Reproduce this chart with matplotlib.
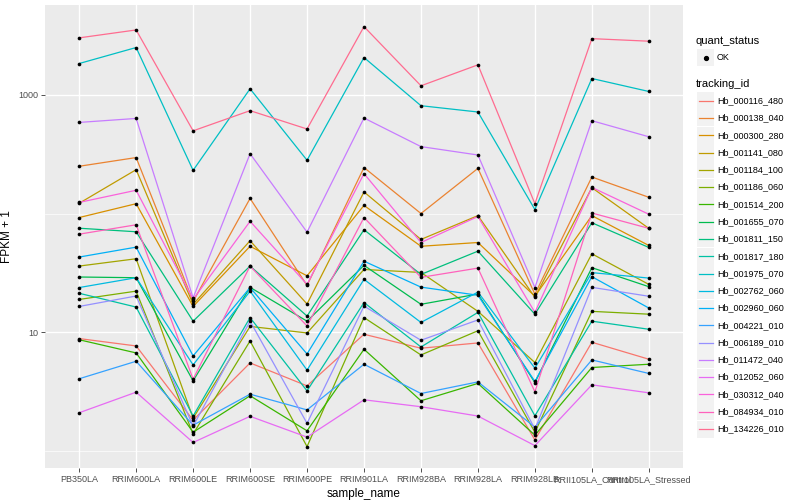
import matplotlib
matplotlib.use("Agg")
import matplotlib.pyplot as plt
import numpy as np
from matplotlib.patches import Rectangle
from matplotlib.lines import Line2D
from matplotlib.ticker import FixedLocator, NullFormatter

plt.rcParams['font.family'] = ['Liberation Sans', 'DejaVu Sans']

samples = ['PB350LA', 'RRIM600LA', 'RRIM600LE', 'RRIM600SE', 'RRIM600PE',
           'RRIM901LA', 'RRIM928BA', 'RRIM928LA', 'RRIM928LB',
           'RRII105LA_Control', 'RRII105LA_Stressed']

tracking_ids = ['Hb_000116_480', 'Hb_000138_040', 'Hb_000300_280', 'Hb_001141_080',
                'Hb_001184_100', 'Hb_001186_060', 'Hb_001514_200', 'Hb_001655_070',
                'Hb_001811_150', 'Hb_001817_180', 'Hb_001975_070', 'Hb_002762_060',
                'Hb_002960_060', 'Hb_004221_010', 'Hb_006189_010', 'Hb_011472_040',
                'Hb_012052_060', 'Hb_030312_040', 'Hb_084934_010', 'Hb_134226_010']

# FPKM + 1 per sample
hb_000116_480 = [8.85, 7.67, 1.82, 5.52, 3.54, 9.62, 7.34, 8.13, 1.24, 8.24, 5.93]
hb_000138_040 = [250, 296, 18.2, 134, 24.8, 244, 100, 240, 20.9, 203, 137]
hb_000300_280 = [92.5, 121, 16.5, 53, 29.9, 117, 53, 57, 20.1, 96, 53.8]
hb_001141_080 = [122, 234, 17.2, 59, 17.3, 152, 60.5, 96, 19.7, 165, 75]
hb_001184_100 = [36.1, 41.6, 1.89, 11.2, 9.87, 33.8, 31.9, 15.0, 5.56, 45.8, 25.3]
hb_001186_060 = [18.9, 22.2, 1.39, 8.45, 1.09, 13.3, 6.44, 10.3, 1.44, 15.0, 14.2]
hb_001514_200 = [8.65, 6.7, 1.44, 2.92, 1.48, 7.19, 2.65, 3.71, 1.36, 5.05, 5.38]
hb_001655_070 = [29.2, 28.8, 3.9, 23.9, 12.4, 36.6, 17.2, 21.0, 3.77, 35.0, 24.2]
hb_001811_150 = [75.2, 70.2, 12.4, 36.1, 13.7, 73, 30.7, 48.2, 14.2, 83.6, 51.8]
hb_001817_180 = [21.3, 16.3, 1.97, 13.3, 3.21, 17.8, 7.52, 14.7, 1.98, 12.4, 10.6]
hb_001975_070 = [1833, 2500, 231, 1123, 281, 2060, 809, 716, 108, 1371, 1066]
hb_002762_060 = [23.8, 28.8, 5.31, 22.2, 4.8, 27.9, 12.1, 21.8, 4.98, 31.8, 28.6]
hb_002960_060 = [43, 52.1, 6.32, 23.8, 6.57, 39.7, 24, 20.5, 3.85, 29.4, 16]
hb_004221_010 = [4.06, 5.7, 1.65, 3.01, 2.22, 5.38, 3.05, 3.82, 1.59, 5.85, 4.5]
hb_006189_010 = [16.5, 20.2, 1.62, 12.4, 1.71, 16.6, 8.57, 12.7, 1.53, 23.9, 20.1]
hb_011472_040 = [585, 632, 19.5, 319, 69.7, 637, 366, 311, 23.8, 605, 443]
hb_012052_060 = [2.1, 3.13, 1.18, 1.96, 1.31, 2.7, 2.36, 1.97, 1.11, 3.61, 3.09]
hb_030312_040 = [124, 157, 18.9, 86, 25.3, 217, 57, 94.4, 14.7, 166, 98.6]
hb_084934_010 = [67, 80.4, 4.03, 36.1, 11.3, 92.5, 29, 34.7, 3.15, 101, 75]
hb_134226_010 = [3015, 3515, 497, 735, 515, 3750, 1190, 1787, 121, 2970, 2826]

series = [hb_000116_480, hb_000138_040, hb_000300_280, hb_001141_080, hb_001184_100,
          hb_001186_060, hb_001514_200, hb_001655_070, hb_001811_150, hb_001817_180,
          hb_001975_070, hb_002762_060, hb_002960_060, hb_004221_010, hb_006189_010,
          hb_011472_040, hb_012052_060, hb_030312_040, hb_084934_010, hb_134226_010]

# ggplot2 default hue palette, 20 levels
colors = ['#F8766D', '#EA8331', '#D89000', '#C09B00', '#A3A500', '#7CAE00', '#39B600',
          '#00BB4E', '#00BF7D', '#00C1A3', '#00BFC4', '#00BAE0', '#00B0F6', '#35A2FF',
          '#9590FF', '#C77CFF', '#E76BF3', '#FA62DB', '#FF62BC', '#FF6C90']

W, H = 800, 500
fig = plt.figure(figsize=(8, 5), dpi=100)
ax = fig.add_axes([45 / W, 1 - 468 / H, 638 / W, 463 / H])
ax.set_facecolor('#EBEBEB')
ax.set_yscale('log')

x = np.arange(len(samples))
for vals, col in zip(series, colors):
    ax.plot(x, vals, color=col, lw=0.9, zorder=2)
for vals in series:
    ax.scatter(x, vals, s=7, color='black', zorder=3, linewidths=0)

ax.set_xlim(-0.6, len(samples) - 0.4)
ax.set_ylim(10 ** -0.143, 10 ** 3.756)

ax.set_xticks(x)
ax.set_xticklabels(samples)
ax.yaxis.set_major_locator(FixedLocator([10, 1000]))
ax.set_yticklabels(['10', '1000'])
ax.yaxis.set_minor_locator(FixedLocator([1, 100, 10000]))
ax.yaxis.set_minor_formatter(NullFormatter())

ax.grid(which='major', color='white', lw=1.0, zorder=0)
ax.grid(which='minor', axis='y', color='white', lw=0.5, zorder=0)
ax.set_axisbelow(True)
for s in ax.spines.values():
    s.set_visible(False)
ax.tick_params(which='major', length=3, width=0.6, color='#333333',
               labelsize=6.5, labelcolor='#4D4D4D', pad=2)
ax.tick_params(which='minor', length=0)

ax.set_xlabel('sample_name', fontsize=8.5, labelpad=3)
ax.set_ylabel('FPKM + 1', fontsize=8.5, labelpad=4)


def fx(px):
    return px / W


def fy(py):
    return 1 - py / H


# legend: quant_status
fig.text(fx(696), fy(41), 'quant_status', fontsize=8, va='center', ha='left')
fig.add_artist(Rectangle((fx(697), fy(66)), 17 / W, 17 / H, transform=fig.transFigure,
                         facecolor='#F2F2F2', edgecolor='none'))
fig.add_artist(Line2D([fx(705.5)], [fy(57.5)], marker='o', ms=2.8, color='black',
                      transform=fig.transFigure))
fig.text(fx(717), fy(57.5), 'OK', fontsize=6.5, va='center', ha='left')

# legend: tracking_id
fig.text(fx(696), fy(84), 'tracking_id', fontsize=8, va='center', ha='left')
for i, (tid, col) in enumerate(zip(tracking_ids, colors)):
    yc = 100.7 + 17.28 * i
    fig.add_artist(Rectangle((fx(697), fy(yc + 8.5)), 17 / W, 17 / H,
                             transform=fig.transFigure, facecolor='#F2F2F2',
                             edgecolor='none'))
    fig.add_artist(Line2D([fx(698.5), fx(712.5)], [fy(yc), fy(yc)], color=col, lw=0.9,
                          transform=fig.transFigure))
    fig.text(fx(717), fy(yc), tid, fontsize=6.5, va='center', ha='left')

fig.savefig('out.png', dpi=100)
